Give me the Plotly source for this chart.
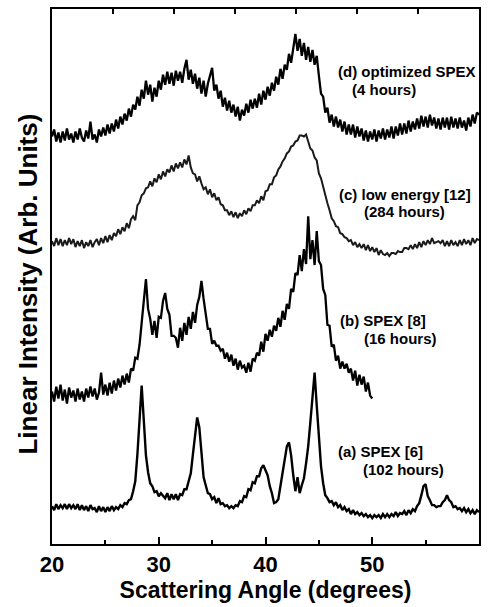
import plotly.graph_objects as go

# Scattering angle sampling grid (degrees)
ANGLE_START = 20.0
ANGLE_STEP = 0.2

# (d) optimized SPEX (4 hours), 20..60 deg
trace_d = [
    409, 416, 404, 413, 403,
    414, 405, 417, 406, 412,
    403, 414, 406, 417, 408,
    404, 415, 407, 424, 406,
    411, 403, 416, 409, 418,
    410, 421, 412, 422, 414,
    426, 417, 429, 421, 432,
    425, 437, 429, 441, 436,
    449, 440, 456, 447, 465,
    451, 461, 444, 458, 449,
    465, 456, 471, 461, 474,
    462, 473, 460, 475, 465,
    474, 463, 477, 486, 466,
    476, 462, 472, 457, 468,
    452, 465, 449, 462, 470,
    478, 455, 461, 447, 455,
    439, 448, 435, 445, 433,
    441, 429, 439, 425, 436,
    430, 442, 433, 446, 437,
    447, 438, 452, 441, 455,
    446, 459, 450, 463, 455,
    469, 461, 477, 467, 481,
    476, 492, 483, 500, 512,
    495, 507, 490, 503, 486,
    499, 484, 496, 481, 490,
    470, 452, 449, 433, 438,
    423, 431, 419, 429, 418,
    426, 414, 424, 411, 421,
    411, 421, 408, 419, 409,
    417, 405, 415, 404, 414,
    406, 416, 404, 415, 407,
    417, 406, 416, 408, 419,
    407, 419, 410, 422, 411,
    422, 412, 425, 414, 424,
    416, 427, 417, 430, 419,
    429, 418, 431, 420, 428,
    417, 427, 416, 428, 418,
    428, 416, 429, 418, 427,
    417, 428, 418, 425, 415,
    428, 419, 431, 422, 433,
    431,
]

# (c) low energy [12] (284 hours), 20..60 deg
trace_c = [
    304, 299, 307, 300, 306,
    299, 305, 300, 307, 301,
    306, 298, 304, 299, 305,
    297, 303, 299, 305, 298,
    303, 306, 300, 307, 302,
    309, 303, 310, 305, 312,
    309, 316, 311, 318, 314,
    322, 317, 326, 329, 325,
    340, 343, 350, 352, 357,
    358, 364, 359, 367, 363,
    371, 366, 374, 369, 376,
    373, 380, 374, 382, 377,
    383, 378, 386, 381, 390,
    378, 372, 371, 364, 369,
    362, 356, 358, 351, 356,
    348, 352, 345, 348, 341,
    340, 335, 335, 330, 334,
    328, 333, 327, 332, 329,
    335, 331, 337, 334, 340,
    340, 345, 342, 349, 345,
    354, 355, 361, 361, 368,
    370, 376, 379, 384, 387,
    392, 394, 399, 400, 404,
    405, 410, 410, 409, 411,
    404, 397, 395, 388, 385,
    372, 367, 358, 352, 342,
    335, 327, 324, 319, 318,
    312, 311, 308, 307, 304,
    305, 300, 303, 298, 301,
    297, 301, 295, 300, 294,
    298, 293, 297, 290, 295,
    291, 290, 292, 289, 292,
    292, 291, 294, 293, 293,
    297, 297, 296, 300, 296,
    301, 297, 303, 298, 304,
    300, 305, 301, 307, 302,
    303, 304, 302, 305, 299,
    304, 299, 305, 300, 303,
    299, 305, 300, 306, 301,
    305, 300, 307, 302, 306,
    305,
]

# (b) SPEX [8] (16 hours), 20..50 deg
trace_b = [
    153, 143, 158, 146, 160,
    144, 155, 141, 157, 147,
    154, 143, 156, 145, 153,
    143, 156, 147, 158, 148,
    156, 145, 152, 172, 150,
    160, 149, 162, 151, 164,
    154, 166, 157, 169, 160,
    171, 162, 176, 174, 187,
    186, 200, 222, 248, 266,
    236, 226, 210, 224, 207,
    228, 227, 244, 252, 236,
    230, 209, 209, 207, 197,
    217, 204, 222, 210, 228,
    216, 233, 222, 240, 248,
    264, 246, 233, 216, 216,
    201, 204, 199, 199, 194,
    196, 186, 192, 183, 190,
    179, 186, 175, 184, 177,
    179, 172, 182, 173, 186,
    184, 192, 189, 203, 193,
    211, 204, 215, 208, 219,
    214, 227, 218, 234, 225,
    241, 236, 256, 253, 272,
    270, 290, 274, 296, 281,
    329, 286, 305, 280, 314,
    284, 280, 256, 250, 220,
    219, 198, 200, 184, 189,
    176, 183, 176, 181, 172,
    176, 164, 174, 159, 170,
    160, 168, 153, 162, 149,
    146,
]

# (a) SPEX [6] (102 hours), 20..60 deg
trace_a = [
    38, 34, 40, 35, 39,
    36, 40, 35, 40, 36,
    39, 35, 40, 34, 39,
    34, 38, 33, 39, 35,
    36, 32, 38, 33, 37,
    32, 37, 33, 38, 34,
    37, 35, 39, 37, 41,
    40, 44, 45, 53, 63,
    90, 128, 159, 124, 89,
    72, 61, 58, 52, 53,
    48, 51, 49, 46, 51,
    44, 50, 45, 50, 44,
    50, 49, 55, 55, 63,
    71, 90, 112, 127, 117,
    92, 67, 59, 51, 50,
    45, 47, 41, 46, 40,
    41, 38, 39, 36, 38,
    36, 39, 38, 43, 42,
    48, 47, 55, 54, 62,
    61, 68, 68, 76, 79,
    74, 69, 58, 51, 41,
    42, 45, 59, 70, 87,
    98, 102, 89, 69, 53,
    67, 51, 59, 66, 81,
    98, 122, 150, 172, 139,
    106, 78, 61, 49, 46,
    42, 43, 39, 42, 37,
    39, 34, 37, 33, 35,
    30, 34, 30, 32, 29,
    31, 28, 30, 27, 29,
    26, 29, 27, 29, 26,
    30, 27, 30, 27, 30,
    28, 32, 28, 31, 30,
    33, 29, 34, 31, 35,
    33, 38, 41, 49, 58,
    60, 48, 44, 39, 39,
    37, 38, 38, 42, 44,
    49, 44, 42, 37, 38,
    35, 36, 33, 36, 32,
    35, 31, 34, 30, 34,
    32,
]

labels = [
    ("(d) optimized SPEX", 46.60, 474), ("(4 hours)", 47.92, 456),
    ("(c) low energy [12]", 46.66, 351), ("(284 hours)", 49.00, 334),
    ("(b) SPEX [8]", 46.80, 224), ("(16 hours)", 49.05, 206),
    ("(a) SPEX [6]", 46.63, 93), ("(102 hours)", 48.91, 75),
]

x_ticks = [20, 30, 40, 50, 60]


def angles(n):
    return [round(ANGLE_START + ANGLE_STEP * i, 3) for i in range(n)]


FONT = "Liberation Sans, Arial, sans-serif"

fig = go.Figure()
series = [
    (trace_d, "#000000", 2.3),
    (trace_c, "#1a1a1a", 2.0),
    (trace_b, "#000000", 2.3),
    (trace_a, "#000000", 2.4),
]
for vals, col, w in series:
    fig.add_trace(go.Scatter(
        x=angles(len(vals)), y=vals, mode="lines",
        line=dict(color=col, width=w), showlegend=False, hoverinfo="skip",
    ))

# invisible trace for the top tick axis
fig.add_trace(go.Scatter(x=[0, 7], y=[0, 0], xaxis="x2", mode="lines",
                         line=dict(width=0), showlegend=False, hoverinfo="skip"))

for text, xv, yv in labels:
    fig.add_annotation(x=xv, y=yv, text=text, showarrow=False,
                       xanchor="left", yanchor="middle",
                       font=dict(family=FONT, size=15, color="black", weight="bold"))

fig.add_annotation(xref="paper", yref="paper", x=-0.0562, y=0.485,
                   text="Linear Intensity (Arb. Units)", textangle=-90,
                   showarrow=False, xanchor="center", yanchor="middle",
                   font=dict(family=FONT, size=26, color="black", weight="bold"))

fig.update_layout(
    width=491, height=607,
    margin=dict(l=52, r=12, t=7, b=63),
    paper_bgcolor="white", plot_bgcolor="white",
    xaxis=dict(
        range=[20, 60], tickvals=x_ticks, ticks="inside", ticklen=7, tickwidth=1.5,
        tickcolor="black", showline=True, linewidth=1.5, linecolor="black",
        mirror=True, showgrid=False, zeroline=False,
        tickfont=dict(family=FONT, size=22, color="black", weight="bold"),
        minor=dict(ticks="inside", ticklen=4, tickwidth=1.5, tickcolor="black",
                   tickvals=[25, 35, 45, 55], showgrid=False),
        title=dict(text="Scattering Angle (degrees)", standoff=2,
                   font=dict(family=FONT, size=23, color="black", weight="bold")),
    ),
    xaxis2=dict(
        overlaying="x", side="top", anchor="y", range=[0, 7], dtick=1,
        ticks="inside", ticklen=5, tickwidth=1.5, tickcolor="black",
        showticklabels=False, showgrid=False, zeroline=False, showline=False,
    ),
    yaxis=dict(
        range=[0, 537], showticklabels=False, ticks="", showgrid=False,
        zeroline=False, showline=True, linewidth=1.5, linecolor="black", mirror=True,
    ),
)

fig.write_html("out.html", config={"displayModeBar": False},
               post_script="document.body.style.margin='0';")
